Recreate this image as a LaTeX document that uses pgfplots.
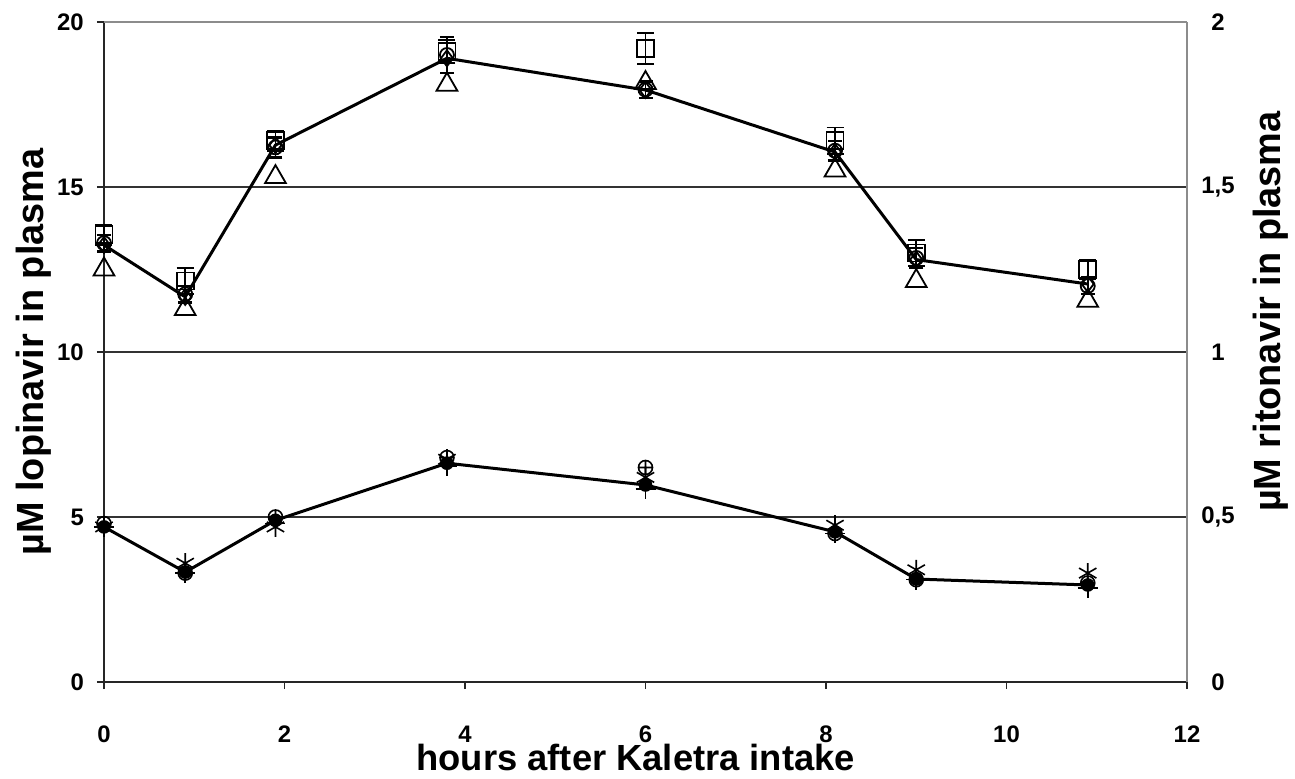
\documentclass[border=0pt]{standalone}
\usepackage{pgfplots}
\pgfplotsset{compat=1.18}
\usepackage{fontspec}
\setmainfont{Liberation Sans}
\begin{document}
\begin{tikzpicture}
\pgfplotsset{
  every axis/.append style={scale only axis, width=1083bp, height=660bp,
    xmin=0, xmax=12, at={(0,0)}, anchor=south west, clip=false},
}
\begin{axis}[
  ymin=0, ymax=20,
  axis x line*=bottom, axis y line*=left,
  axis line style={black!85, line width=2.2bp},
  xtick={0,2,...,12}, ytick={0,5,...,20},
  tick align=outside, major tick length=7bp,
  tick style={black!85, line width=1.6bp},
  ymajorgrids, grid style={black!80, line width=2bp},
  ticklabel style={font=\fontsize{24}{24}\selectfont\bfseries},
  /pgf/number format/assume math mode=true,
  xticklabel style={anchor=north, inner sep=0pt, yshift=-37bp},
  yticklabel style={anchor=east, inner sep=0pt, xshift=-13bp},
  xlabel={hours after Kaletra intake},
  xlabel style={at={(axis description cs:0.491,0)}, anchor=base, yshift=-88bp, inner sep=0pt,
    font=\fontsize{36.5}{36.5}\selectfont\bfseries},
  ylabel={µM lopinavir in plasma},
  ylabel style={at={(axis description cs:-0.0646,0.5)}, anchor=center, inner sep=0pt,
    font=\fontsize{38}{38}\selectfont\bfseries},
  mark options={solid, line width=1.8bp},
]
\draw[black!45, line width=2.2bp] (rel axis cs:0,1) -- (rel axis cs:1,1);
% triangles
\addplot[only marks, mark=triangle, mark size=12bp, black] coordinates {
(0,12.5) (0.9,11.3) (1.9,15.3) (3.8,18.1) (6,18.15) (8.1,15.5) (9,12.15) (10.9,11.55)};
% squares with error bars
\addplot[only marks, mark=square, mark size=8.5bp, black,
  error bars/.cd, y dir=both, y explicit,
  error bar style={line width=1.8bp},
  error mark options={rotate=90, mark size=8.5bp, line width=1.8bp}]
 coordinates {
(0,13.55) +- (0,0.3)
(0.9,12.15) +- (0,0.4)
(1.9,16.4) +- (0,0.3)
(3.8,19.1) +- (0,0.35)
(6,19.2) +- (0,0.47)
(8.1,16.4) +- (0,0.4)
(9,13.0) +- (0,0.4)
(10.9,12.5) +- (0,0.3)};
% circles with error bars
\addplot[only marks, mark=o, mark size=7bp, black,
  error bars/.cd, y dir=both, y explicit,
  error bar style={line width=1.8bp},
  error mark options={rotate=90, mark size=7bp, line width=2.5bp}]
 coordinates {
(0,13.3) +- (0,0.25)
(0.9,11.75) +- (0,0.25)
(1.9,16.2) +- (0,0.3)
(3.8,19.0) +- (0,0.55)
(6,17.95) +- (0,0.25)
(8.1,16.1) +- (0,0.3)
(9,12.85) +- (0,0.3)
(10.9,12.0) +- (0,0.25)};
% diamond line
\addplot[black, line width=3bp, mark=diamond, mark size=8bp] coordinates {
(0,13.24) (0.9,11.67) (1.9,16.27) (3.8,18.9) (6,17.94) (8.1,16.06) (9,12.8) (10.9,12.06)};
\end{axis}
\begin{axis}[
  ymin=0, ymax=2,
  axis x line=none, axis y line*=right,
  axis line style={black!45, line width=2.2bp},
  ytick={0,0.5,1,1.5,2}, yticklabels={0,{0,5},1,{1,5},2},
  major tick length=0bp,
  ticklabel style={font=\fontsize{24}{24}\selectfont\bfseries},
  yticklabel style={anchor=center, inner sep=0pt, xshift=31bp},
  ylabel={µM ritonavir in plasma},
  ylabel style={at={(axis description cs:1.0776,0.561)}, anchor=center, inner sep=0pt, rotate=0,
    font=\fontsize{38}{38}\selectfont\bfseries},
  mark options={solid, line width=1.6bp},
]
% hatched circles
\addplot[only marks, mark=oplus, mark size=7bp, black] coordinates {
(0,0.48) (0.9,0.33) (1.9,0.50) (3.8,0.68) (6,0.65) (8.1,0.45) (9,0.31) (10.9,0.30)};
% asterisks
\addplot[only marks, mark=asterisk, mark size=10bp, black] coordinates {
(0,0.47) (0.9,0.36) (1.9,0.47) (3.8,0.675) (6,0.62) (8.1,0.475) (9,0.34) (10.9,0.33)};
% plus
\addplot[only marks, mark=+, mark size=10bp, black] coordinates {
(0,0.47) (0.9,0.33) (1.9,0.48) (3.8,0.655) (6,0.585) (8.1,0.45) (9,0.31) (10.9,0.285)};
% line with filled circles
\addplot[black, line width=3bp, mark=*, mark size=6bp] coordinates {
(0,0.47) (0.9,0.333) (1.9,0.49) (3.8,0.663) (6,0.597) (8.1,0.455) (9,0.312) (10.9,0.294)};
\end{axis}
\path[use as bounding box] (-104bp,-97bp) rectangle (1191bp,682bp);
\end{tikzpicture}
\end{document}
